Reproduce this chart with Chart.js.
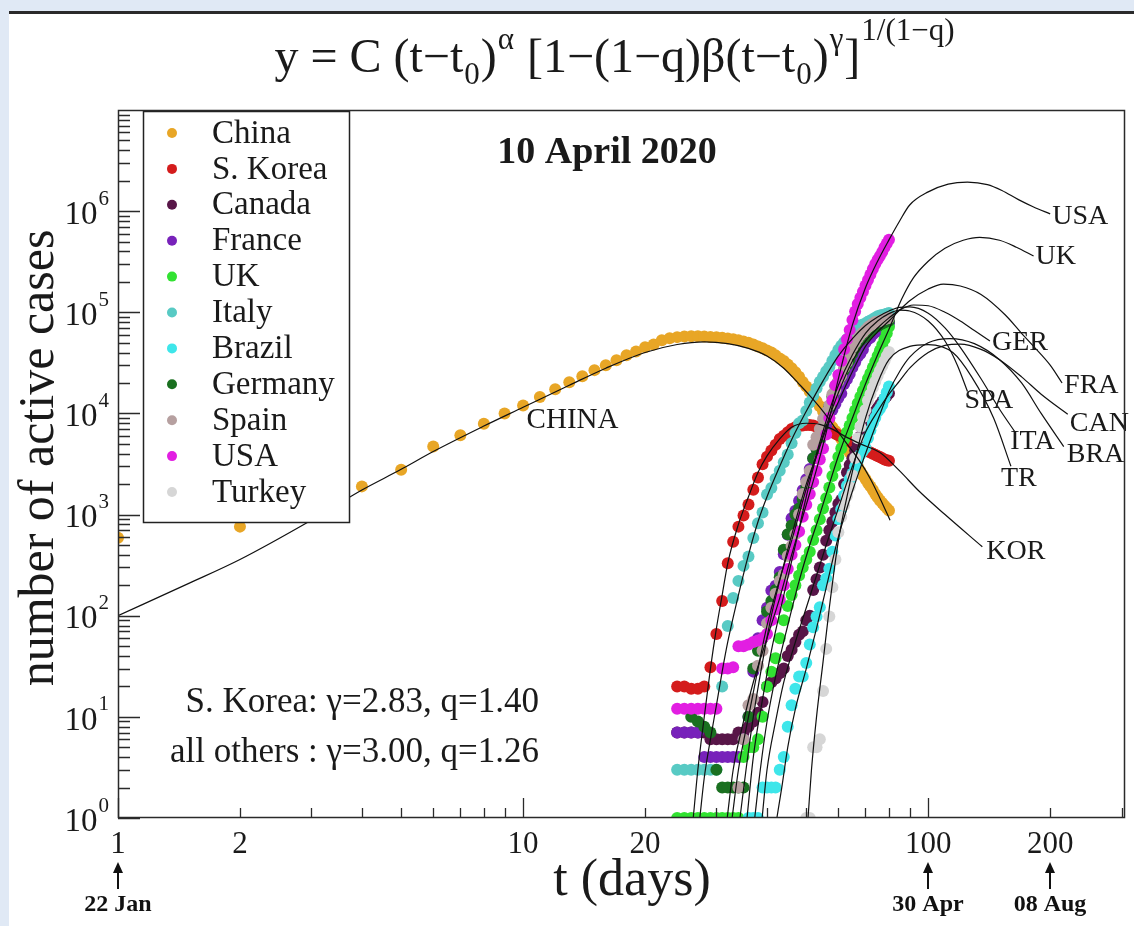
<!DOCTYPE html>
<html>
<head>
<meta charset="utf-8">
<script src="https://cdn.jsdelivr.net/npm/chart.js@4.4.1/dist/chart.umd.min.js"></script>
<style>
html,body{margin:0;padding:0;background:#fff;}
canvas{display:block;}
</style>
</head>
<body>
<canvas id="myChart" width="1134" height="926"></canvas>
<script>
// values; t = days counted from 22 Jan (t = 1)
const countryNames = ['China','S. Korea','Canada','France','UK','Italy','Brazil','Germany','Spain','USA','Turkey'];
const countryColors = ['rgb(232,166,38)','rgb(212,28,28)','rgb(88,22,72)','rgb(120,34,186)','rgb(50,226,50)',
  'rgb(88,202,196)','rgb(62,230,234)','rgb(26,112,32)','rgb(182,160,160)','rgb(226,30,226)','rgb(214,214,214)'];
const startDay = [1,24,24,24,24,24,36,26,34,24,50];

const chinaActive = [590,760,1050,1900,2780,4700,6100,7900,10000,12000,14500,17300,20300,23300,26800,30000,33500,37600,41000,45000,
  48000,53000,55500,56800,57600,58000,58000,57500,57000,56500,56000,55000,54000,53000,51500,50000,48000,46000,44000,42000,
  40000,37500,35000,33000,30500,28000,25500,23000,20500,18500,16500,14800,13200,11800,10500,9300,8200,7300,6700,6200,
  5600,5000,4500,4100,3700,3300,3000,2700,2450,2250,2050,1900,1750,1600,1480,1380,1300,1220,1160,1100];
const koreaActive = [20,20,19,19,20,31,66,140,330,540,760,980,1260,1760,2330,3150,3740,4300,4900,5600,
  6000,6500,7000,7300,7500,7600,7700,7700,7600,7400,7200,7000,6900,6700,6500,6300,6100,5900,5700,5500,
  5300,5100,4900,4700,4550,4400,4300,4200,4100,4000,3900,3800,3700,3600,3500,3450,3400];
const canadaActive = [7,7,7,7,7,6,6,6,6,6,7,7,8,9,11,14,20,22,24,27,30,40,46,55,65,70,90,100,180,230,
  300,400,550,700,850,1050,1280,1400,2000,2600,3100,3600,4300,5000,5900,6700,7400,8200,9000,9700,
  10500,11300,12200,13100,14000,14900,15800];
const franceActive = [7,7,7,7,4,4,4,4,4,4,4,6,10,28,60,90,120,178,198,270,405,630,920,1090,1370,
  1740,2230,2820,3600,4430,5340,6520,7600,8990,10800,12400,14200,15700,19500,21800,24600,28400,32000,36400,38800,
  42800,50000,54500,56000,60500,64000,65000,68000,70500,73000,75500,78000];
const ukActive = [1,1,1,1,1,1,1,1,1,1,1,4,5,5,6,10,20,28,38,60,90,125,160,200,250,300,360,430,560,700,
  900,1150,1450,1850,2400,3000,3700,4500,5500,6500,7600,9000,10700,12600,14600,16800,19200,22000,25000,28500,
  32500,37000,42000,47500,54000,62000,72000];
const italyActive = [3,3,3,3,3,3,3,20,79,150,221,311,385,588,821,1049,1577,1835,2263,2706,3296,3916,5061,6387,7985,
  8514,10590,12839,14955,17750,20603,23073,26062,28710,33190,37860,42681,46638,50418,54030,57521,62013,66414,70065,73880,
  75528,77635,80572,83049,85388,88274,91246,93187,94067,95262,96877,98273];
const brazilActive = [1,1,1,2,2,2,2,3,4,8,13,19,25,25,34,52,77,98,121,200,234,291,428,621,904,
  1128,1546,1924,2247,2554,2985,3417,3904,4256,4579,5717,6836,8044,9056,10360,11130,12161,14034,16170,18500];
const germanyActive = [10,9,8,7,3,2,2,2,2,2,10,30,45,60,110,140,180,240,450,640,780,1000,1150,1420,1850,
  2000,3600,4450,5600,7000,8900,11700,14600,18700,20800,23200,26900,30300,33700,39100,44400,49700,52700,55700,57900,
  61200,64400,68000,71000,73000,75500,77500,79500,81000,82500];
const spainActive = [2,6,13,15,32,45,84,120,165,220,255,390,490,640,1000,1600,2100,2700,4900,5800,
  7000,8800,10300,12000,15500,17000,20800,23500,28300,32000,39000,45000,50000,55000,59500,63000,67000,71000,74000,77000,
  80000,80500,82000,84000,85500,87000,88000];
const usaActive = [12,12,12,12,12,12,12,30,30,31,50,50,52,55,57,60,66,90,115,145,200,290,400,500,680,
  950,1250,1600,2100,2700,3500,4500,6200,9000,13500,19000,24000,33000,43000,54000,67000,84000,102000,121000,139000,
  160000,184000,208000,237000,268000,300000,330000,360000,395000,440000,480000,520000];
const turkeyActive = [1,1,5,5,6,18,47,98,191,359,670,947,1236,1529,1872,2433,3629,5698,7402,9217,
  10827,13400,15500,17900,20600,23500,26500,29500,33000,37000,40500];

// fitted curves as [t, active cases]
const chinaFit = [[1,100],[1.5,210],[2,360],[3,880],[4,1750],[5,2800],[6,4200],[8,7500],[10,11500],[13,19000],[16,28000],
  [20,40000],[24,48000],[28,51000],[32,49000],[36,44000],[40,37000],[44,28000],[48,19500],[51,15000],[55,10500],
  [58.5,7500],[63,5000],[68,3300],[72,2250],[76,1450],[80.5,880]];
const koreaFit = [[26.3,1],[27,3],[28,10],[29,30],[30,75],[31,160],[32,330],[34,800],[36,1500],[38,2600],[40,3800],
  [43,5600],[46,7300],[50,8000],[54,7800],[58,7000],[62,6000],[68,5000],[76,4100],[85,2700],[95,1700],[110,1000],[136,480]];
const canadaFit = [[38.9,1],[40,3],[42,9],[44,22],[47,55],[50,120],[53,250],[56,500],[60,1150],[65,3000],[70,6500],
  [75,10500],[80,15500],[85,21000],[90,28000],[100,40000],[110,47000],[120,48500],[135,43000],[150,34000],[170,23000],
  [190,15500],[221,9800]];
const franceFit = [[34.3,1],[35.5,3],[37,10],[39,35],[41,100],[44,320],[47,850],[50,2000],[53,3800],[56,7000],[60,13000],
  [65,26000],[70,46000],[75,64000],[80,82000],[85,105000],[90,130000],[100,170000],[109,190000],[120,182000],[135,150000],
  [155,94000],[170,62000],[182,46000],[200,30000],[214,20000]];
const ukFit = [[37.3,1],[38.5,3],[40,9],[42,25],[45,80],[48,220],[51,500],[54,1000],[57,2000],[60,3800],[65,9000],
  [70,19500],[75,38000],[80,68000],[86,135000],[92,220000],[100,320000],[110,430000],[122,515000],[134,550000],
  [150,515000],[165,440000],[182,360000]];
const italyFit = [[27.3,1],[28,2.5],[29,6],[30,13],[31,28],[32,55],[34,160],[36,400],[38,850],[40,1500],[43,3000],
  [46,5500],[50,10500],[55,21000],[60,37000],[65,55000],[70,74000],[75,90000],[80,103000],[85,112000],[90,113000],
  [100,98000],[110,70000],[120,45000],[135,22000],[150,11000],[164,6500]];
const brazilFit = [[42.3,1],[43.5,2],[45,5],[47,12],[50,30],[53,75],[56,190],[60,600],[65,1700],[70,4000],[75,8500],
  [80,16500],[85,26000],[90,36000],[100,50000],[113,55000],[130,49000],[150,34000],[170,20000],[190,10000],[216,4700]];
const germanyFit = [[35.7,1],[37,4],[39,15],[41,45],[44,160],[47,500],[50,1500],[53,3800],[56,7500],[60,16000],
  [65,33000],[70,52000],[75,70000],[80,88000],[85,105000],[92,118000],[100,116000],[110,100000],[120,82000],
  [130,66000],[142,52000]];
const spainFit = [[32.8,1],[34,3],[36,10],[38,30],[40,80],[43,230],[46,550],[50,1800],[53,4000],[56,8500],[60,19000],
  [65,38000],[70,62000],[75,82000],[80,97000],[85,105000],[90,103000],[100,82000],[110,52000],[118,30000],[125,16500]];
const usaFit = [[31.9,1],[33,3],[35,9],[37,22],[40,60],[43,150],[46,400],[50,1250],[53,2800],[56,6500],[60,22000],
  [65,75000],[70,175000],[75,320000],[80,520000],[85,800000],[90,1150000],[100,1550000],[112,1850000],[125,1940000],
  [140,1830000],[152,1600000],[167,1300000],[182,1100000],[200,940000]];
const turkeyFit = [[50.5,1],[51.5,3],[53,10],[55,35],[57,120],[60,550],[63,1500],[66,3500],[70,9000],[75,20000],
  [80,34000],[90,46000],[100,48000],[115,40000],[128,23000],[145,9000],[160,3000]];

const fitLabels = ['CHINA','KOR','CAN','FRA','UK','ITA','BRA','GER','SPA','USA','TR'];
const chinaLabelAt = [10.2, 8500];

const xTickMarks = [1,2,3,4,5,6,7,8,9,10,20,30,40,50,60,70,80,90,100,200,300];
const xLabelValues = [1,2,10,20,100,200];
const yDecades = [0,1,2,3,4,5,6];
const dateMarks = [1,100,200];
const dateLabels = ['22 Jan','30 Apr','08 Aug'];

const serif = '"Liberation Serif", "Times New Roman", serif';

// pixel offsets of the curve labels from the curve ends
const labelOffsets = {
  CHINA:[0,0], KOR:[4,5], CAN:[2,9], FRA:[2,3], UK:[2,1], ITA:[-5,9], BRA:[3,8], GER:[2,2], SPA:[-3,9], USA:[2,3], TR:[-10,12]
};

const countrySeries = [chinaActive, koreaActive, canadaActive, franceActive, ukActive, italyActive,
  brazilActive, germanyActive, spainActive, usaActive, turkeyActive];
const fitSeries = [chinaFit, koreaFit, canadaFit, franceFit, ukFit, italyFit, brazilFit, germanyFit, spainFit, usaFit, turkeyFit];

let datasets = [];
countrySeries.forEach((vals, i) => {
  datasets.push({
    label: countryNames[i],
    data: vals.map((v, j) => ({x: startDay[i] + j, y: v})),
    backgroundColor: countryColors[i],
    borderColor: countryColors[i],
    borderWidth: 0,
    pointRadius: 6,
    showLine: false,
    order: 20 - i
  });
});
fitSeries.forEach((f, i) => {
  datasets.push({
    label: fitLabels[i],
    data: f.map(p => ({x: p[0], y: p[1]})),
    showLine: true,
    pointRadius: 0,
    borderColor: '#111',
    borderWidth: 1.2,
    cubicInterpolationMode: 'monotone',
    fill: false,
    order: 0
  });
});

function drawFormula(ctx, cx, baseY){
  const big = '48px ' + serif, small = '31px ' + serif;
  const parts = [
    ['y = C (t\u2212t', big, 0],
    ['0', small, 12],
    [')', big, 0],
    ['\u03b1', small, -23],
    [' [1\u2212(1\u2212q)\u03b2(t\u2212t', big, 0],
    ['0', small, 12],
    [')', big, 0],
    ['\u03b3', small, -23],
    [']', big, 0],
    ['1/(1\u2212q)', small, -32]
  ];
  let total = 0;
  parts.forEach(p => { ctx.font = p[1]; total += ctx.measureText(p[0]).width + (p[1] === small ? 2 : 0); });
  let x = cx - total / 2;
  ctx.textAlign = 'left';
  ctx.textBaseline = 'alphabetic';
  parts.forEach(p => {
    ctx.font = p[1];
    if (p[1] === small) x += 1;
    ctx.fillText(p[0], x, baseY + p[2]);
    x += ctx.measureText(p[0]).width + (p[1] === small ? 1 : 0);
  });
}

const decor = {
  id: 'decor',
  beforeDraw(chart){
    const {ctx, width, height} = chart;
    ctx.save();
    ctx.fillStyle = '#fff';
    ctx.fillRect(0, 0, width, height);
    ctx.fillStyle = 'rgb(224,233,245)';
    ctx.fillRect(0, 0, width, 11);
    ctx.fillRect(0, 0, 9, height);
    ctx.fillStyle = '#2a2a2a';
    ctx.fillRect(9, 11, width - 9, 3);
    ctx.restore();
  },
  afterDatasetsDraw(chart){
    const {ctx, scales: {x, y}} = chart;
    ctx.save();
    // legend box
    ctx.fillStyle = '#fff';
    ctx.fillRect(143, 111, 207, 412);
    ctx.strokeStyle = '#222';
    ctx.lineWidth = 1.5;
    ctx.strokeRect(143.5, 111.5, 206, 411);
    ctx.font = '33px ' + serif;
    ctx.textBaseline = 'middle';
    ctx.textAlign = 'left';
    countryNames.forEach((name, i) => {
      const ry = 133 + i * 35.9;
      ctx.fillStyle = countryColors[i];
      ctx.beginPath();
      ctx.arc(172, ry, 5, 0, Math.PI * 2);
      ctx.fill();
      ctx.fillStyle = '#1a1a1a';
      ctx.fillText(name, 212, ry + 1);
    });
    // curve labels
    fitLabels.forEach((lab, i) => {
      const f = fitSeries[i];
      const at = lab === 'CHINA' ? chinaLabelAt : f[f.length - 1];
      const off = labelOffsets[lab];
      ctx.font = (lab === 'CHINA' ? '29px ' : '28px ') + serif;
      ctx.fillText(lab, x.getPixelForValue(at[0]) + off[0], y.getPixelForValue(at[1]) + off[1]);
    });
    // date of the data
    ctx.font = 'bold 38px ' + serif;
    ctx.textAlign = 'center';
    ctx.fillText('10 April 2020', 607, 153);
    // parameters
    ctx.font = '35px ' + serif;
    ctx.textAlign = 'right';
    ctx.fillText('S. Korea: \u03b3=2.83, q=1.40', 539, 703);
    ctx.fillText('all others : \u03b3=3.00, q=1.26', 539, 753);
    ctx.restore();
  },
  afterDraw(chart){
    const {ctx, chartArea: a, scales: {x, y}} = chart;
    ctx.save();
    ctx.strokeStyle = '#2a2a2a';
    ctx.lineWidth = 1.5;
    ctx.strokeRect(a.left + 0.5, a.top + 0.5, a.right - a.left - 1, a.bottom - a.top - 1);
    // inward tick marks
    ctx.lineWidth = 1.3;
    ctx.beginPath();
    xTickMarks.forEach(v => {
      const px = Math.round(x.getPixelForValue(v)) + 0.5;
      const len = Math.log10(v) % 1 === 0 ? 20 : 10;
      ctx.moveTo(px, a.bottom);
      ctx.lineTo(px, a.bottom - len);
    });
    for (let k = 0; k <= 6; k++) {
      for (let m = 1; m <= 9; m++) {
        const py = Math.round(y.getPixelForValue(m * Math.pow(10, k))) + 0.5;
        const len = m === 1 ? 22 : 12;
        ctx.moveTo(a.left, py);
        ctx.lineTo(a.left + len, py);
      }
    }
    ctx.stroke();
    // y tick labels 10^k
    ctx.fillStyle = '#1a1a1a';
    ctx.textAlign = 'right';
    ctx.textBaseline = 'middle';
    yDecades.forEach(k => {
      const py = y.getPixelForValue(Math.pow(10, k));
      ctx.font = '21px ' + serif;
      const ew = ctx.measureText(String(k)).width;
      ctx.fillText(String(k), 109, py - 12);
      ctx.font = '33px ' + serif;
      ctx.fillText('10', 109 - ew - 1, py + 4);
    });
    // axis titles
    ctx.textAlign = 'center';
    ctx.font = '52px ' + serif;
    ctx.fillText('t (days)', 632, 881);
    ctx.save();
    ctx.translate(40, 458);
    ctx.rotate(-Math.PI / 2);
    ctx.font = '50px ' + serif;
    ctx.fillText('number of active cases', 0, 0);
    ctx.restore();
    // formula
    ctx.fillStyle = '#1a1a1a';
    drawFormula(ctx, 615, 72);
    // date arrows
    ctx.fillStyle = '#111';
    ctx.strokeStyle = '#111';
    ctx.lineWidth = 2;
    dateMarks.forEach((t, i) => {
      const px = Math.round(x.getPixelForValue(t));
      ctx.beginPath();
      ctx.moveTo(px, 889);
      ctx.lineTo(px, 870);
      ctx.stroke();
      ctx.beginPath();
      ctx.moveTo(px - 5, 873);
      ctx.lineTo(px + 5, 873);
      ctx.lineTo(px, 862);
      ctx.closePath();
      ctx.fill();
      ctx.font = 'bold 24px ' + serif;
      ctx.textAlign = 'center';
      ctx.fillText(dateLabels[i], px, 911);
    });
    ctx.restore();
  }
};

const chart = new Chart(document.getElementById('myChart'), {
  type: 'scatter',
  data: {datasets: datasets},
  options: {
    responsive: false,
    animation: false,
    events: [],
    layout: {padding: {top: 110, left: 118, right: 9, bottom: 0}},
    plugins: {legend: {display: false}, tooltip: {enabled: false}, title: {display: false}},
    scales: {
      x: {
        type: 'logarithmic',
        min: 1,
        max: 306,
        grid: {display: false, drawTicks: false},
        border: {display: false},
        afterBuildTicks: (s) => { s.ticks = xTickMarks.map(v => ({value: v})); },
        afterFit: (s) => { s.height = 108; },
        ticks: {
          autoSkip: false,
          maxRotation: 0,
          padding: 8,
          color: '#1a1a1a',
          font: {family: serif, size: 31},
          callback: (v) => xLabelValues.includes(v) ? String(v) : ''
        }
      },
      y: {type: 'logarithmic', min: 1, max: 1e7, display: false}
    }
  },
  plugins: [decor]
});
</script>
</body>
</html>
